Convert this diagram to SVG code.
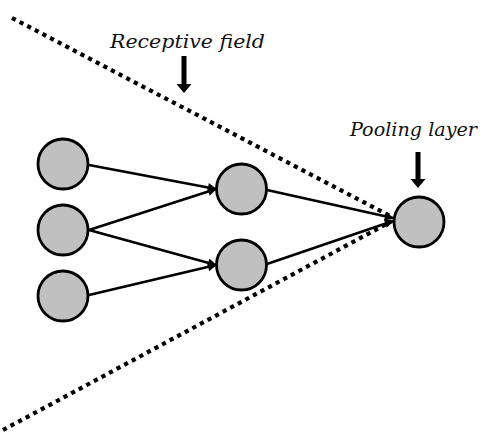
<svg xmlns="http://www.w3.org/2000/svg" width="487" height="432" viewBox="0 0 487 432">
  <style>
    .node { fill: #c0c0c0; stroke: #000; stroke-width: 2.8; }
    .edge { stroke: #000; stroke-width: 2.6; fill: none; marker-end: url(#head); }
    .field { stroke: #000; stroke-width: 4.2; fill: none; stroke-dasharray: 4.2 4.4; }
    .label { font-family: "DejaVu Serif", "Liberation Serif", serif; font-style: italic; font-size: 19px; fill: #111; }
    .pointer { fill: #000; }
  </style>
  <defs>
    <marker id="head" viewBox="0 0 10 10" refX="9" refY="5" markerWidth="10" markerHeight="9" markerUnits="userSpaceOnUse" orient="auto">
      <path d="M0,0 L10,5 L0,10 z" fill="#000"/>
    </marker>
  </defs>

  <rect width="487" height="432" fill="#fff"/>

  <!-- receptive field boundaries -->
  <g id="field-lines">
    <line class="field" x1="12" y1="18" x2="392" y2="217"/>
    <line class="field" x1="3" y1="430" x2="392" y2="221"/>
  </g>

  <!-- connectors -->
  <g id="connectors">
    <line class="edge" x1="89" y1="165" x2="216" y2="189"/>
    <line class="edge" x1="89" y1="230" x2="216" y2="189"/>
    <line class="edge" x1="89" y1="230" x2="216" y2="265"/>
    <line class="edge" x1="89" y1="295" x2="216" y2="265"/>
    <line class="edge" x1="267" y1="190" x2="393" y2="218"/>
    <line class="edge" x1="267" y1="264" x2="393" y2="221"/>
  </g>

  <!-- input layer -->
  <g id="in1"><circle class="node" cx="63" cy="164" r="25"/></g>
  <g id="in2"><circle class="node" cx="63" cy="230" r="25"/></g>
  <g id="in3"><circle class="node" cx="63" cy="296" r="25"/></g>

  <!-- hidden layer -->
  <g id="mid1"><circle class="node" cx="241.5" cy="189" r="25"/></g>
  <g id="mid2"><circle class="node" cx="241.5" cy="265" r="25"/></g>

  <!-- pooling unit -->
  <g id="pool"><circle class="node" cx="419" cy="222" r="25"/></g>

  <!-- captions with pointers -->
  <g id="receptive-label">
    <text class="label" x="110" y="48" textLength="155" lengthAdjust="spacingAndGlyphs">Receptive field</text>
    <path class="pointer" d="M181.5,56 h5 v28 h5 l-7.5,9 l-7.5,-9 h5 z"/>
  </g>
  <g id="pooling-label">
    <text class="label" x="350" y="136" textLength="127" lengthAdjust="spacingAndGlyphs">Pooling layer</text>
    <path class="pointer" d="M415.5,152 h5 v27 h5 l-7.5,9 l-7.5,-9 h5 z"/>
  </g>
</svg>
